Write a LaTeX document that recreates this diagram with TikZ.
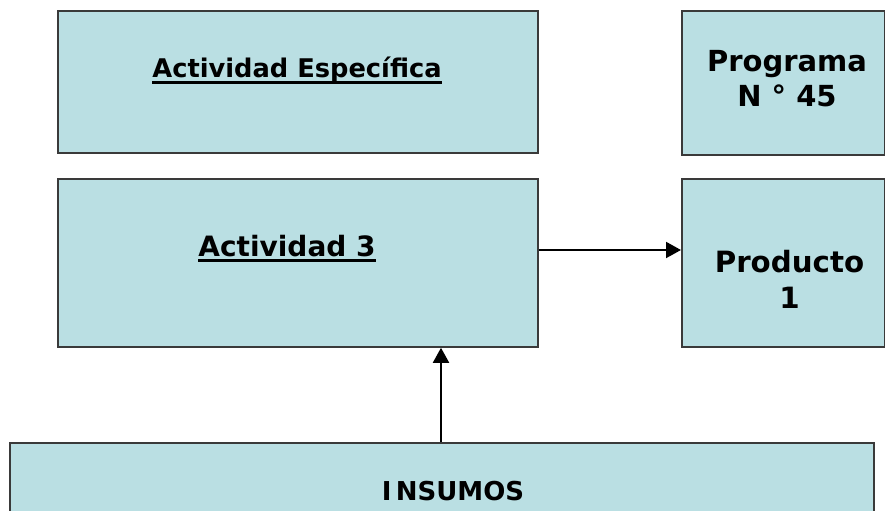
\documentclass[tikz,border=0pt]{standalone}
\usepackage{fontspec}
\setmainfont{DejaVu Sans}
\usetikzlibrary{arrows.meta}
\definecolor{boxfill}{HTML}{BADFE3}
\definecolor{boxline}{HTML}{3A3A3A}
\newcommand\myul[2]{\setbox0\hbox{#2}\rlap{\rule[-#1]{\wd0}{3bp}}\box0}
\tikzset{
  box/.style={draw=boxline, line width=1.8bp, fill=boxfill, inner sep=0pt, anchor=north west},
  lbl/.style={anchor=base, inner sep=0pt, align=center},
  conn/.style={line width=2bp, -{Triangle[length=15bp,width=16bp]}}
}
\begin{document}
\begin{tikzpicture}[x=1bp,y=-1bp]
\useasboundingbox (0,0) rectangle (885,511);
\node[box, minimum width=480bp, minimum height=142bp] (ae) at (57,10) {};
\node[box, minimum width=203bp, minimum height=144bp] (prog) at (681,10) {};
\node[box, minimum width=480bp, minimum height=168bp] (act) at (57,178) {};
\node[box, minimum width=203bp, minimum height=168bp] (prod) at (681,178) {};
\node[box, minimum width=864bp, minimum height=100bp] (ins) at (9,442) {};
\node[lbl, font=\bfseries\fontsize{25.7bp}{28bp}\selectfont] (tae) at (297,78) {\myul{6.5bp}{Actividad Específica}};
\node[lbl, font=\bfseries\fontsize{28bp}{30bp}\selectfont] (tact) at (287,257) {\myul{5.5bp}{Actividad 3}};
\node[lbl, font=\bfseries\fontsize{29bp}{35bp}\selectfont, anchor=north] (tprog) at (787,50) {Programa\\N ° 45};
\node[lbl, font=\bfseries\fontsize{29.3bp}{36bp}\selectfont, anchor=north] (tprod) at (789.5,250) {Producto\\1};
\node[lbl, font=\bfseries\fontsize{26bp}{30bp}\selectfont] (tins) at (453,500) {I\,NSUMOS};
\draw[conn] (act.east |- 0,250) -- (prod.west |- 0,250);
\draw[conn] (ins.north -| 441,0) -- (act.south -| 441,0);
\end{tikzpicture}
\end{document}
